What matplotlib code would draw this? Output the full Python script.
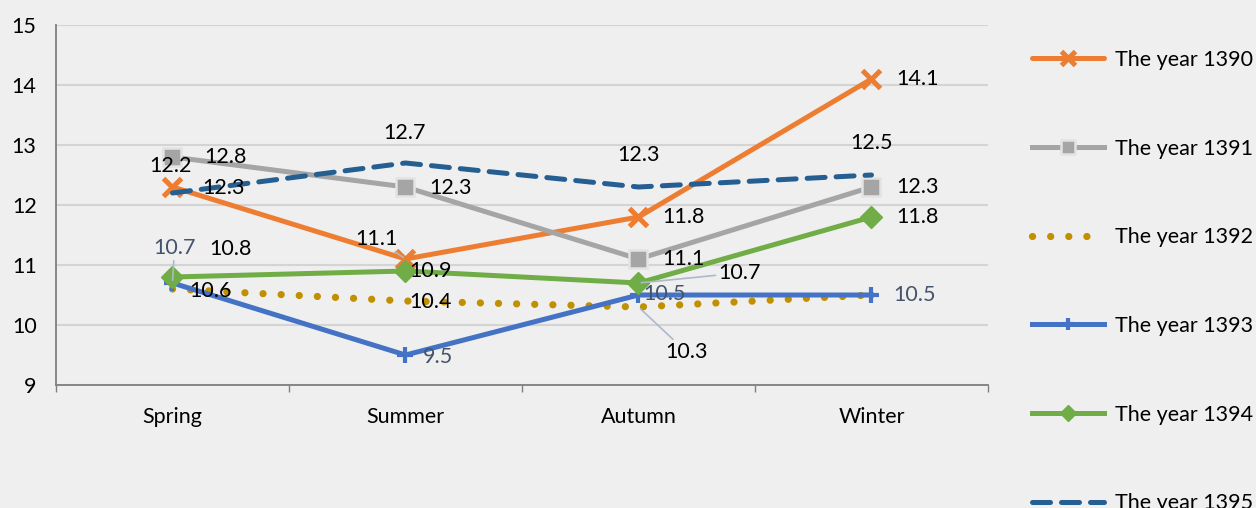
import matplotlib
matplotlib.use("Agg")
import matplotlib.pyplot as plt
from matplotlib.lines import Line2D

seasons = ["Spring", "Summer", "Autumn", "Winter"]
series_names = ["The year 1390", "The year 1391", "The year 1392",
                "The year 1393", "The year 1394", "The year 1395"]
y1390 = [12.3, 11.1, 11.8, 14.1]
y1391 = [12.8, 12.3, 11.1, 12.3]
y1392 = [10.6, 10.4, 10.3, 10.5]
y1393 = [10.7, 9.5, 10.5, 10.5]
y1394 = [10.8, 10.9, 10.7, 11.8]
y1395 = [12.2, 12.7, 12.3, 12.5]
yticks = [9, 10, 11, 12, 13, 14, 15]

plt.rcParams['font.family'] = ['Lato', 'DejaVu Sans']
FS = 15.5
BG = "#efefef"
fig = plt.figure(figsize=(12.56, 5.08), dpi=100, facecolor=BG)
ax = fig.add_axes([56/1256, 1-385/508, 932/1256, 360/508], facecolor=BG)

x = list(range(len(seasons)))
lw = 3.6
styles = [
    dict(color="#ED7D31", lw=lw, marker="x", ms=13.5, mew=3.6, solid_capstyle="round"),
    dict(color="#A5A5A5", lw=lw, marker="s", ms=12.5, mfc="#A5A5A5", mec="#e3e3e3", mew=1.8),
    dict(color="#C09000", lw=5.2, linestyle=(0, (0.01, 2.5)), dash_capstyle="round"),
    dict(color="#4472C4", lw=lw, marker="+", ms=11, mew=3),
    dict(color="#70AD47", lw=lw, marker="D", ms=11.5, mfc="#70AD47", mec="#70AD47"),
    dict(color="#255E91", lw=lw, linestyle=(0, (3.6, 2.2)), dash_capstyle="round"),
]
data = [y1390, y1391, y1392, y1393, y1394, y1395]
order = [2, 5, 1, 0, 3, 4]
for i in order:
    ax.plot(x, data[i], zorder=3 + i * 0.1, **styles[i])

ax.set_xlim(-0.5, 3.5)
ax.set_ylim(9, 15)
ax.set_yticks(yticks)
ax.set_xticks(x)
ax.set_xticklabels(seasons, fontsize=FS)
ax.tick_params(axis="y", length=0, labelsize=FS, pad=14)
ax.tick_params(axis="x", which="major", length=0, pad=16)
ax.set_xticks([-0.5, 0.5, 1.5, 2.5, 3.5], minor=True)
ax.tick_params(axis="x", which="minor", length=5, color="#7f7f7f", width=1)
ax.grid(axis="y", color="#d4d4d4", lw=1.5, zorder=0)
for s in ["top", "right"]:
    ax.spines[s].set_visible(False)
for s in ["left", "bottom"]:
    ax.spines[s].set_color("#7f7f7f")
    ax.spines[s].set_linewidth(1.3)

# data labels: (series index, point index, dx px, dy px (up), leader)
black = "#000000"
slate = "#44546a"
lab = [
    (0, 0, 51, -1, False), (0, 1, -29, 20, True), (0, 2, 45, 0, False), (0, 3, 46, 0, False),
    (1, 0, 53, 0, False), (1, 1, 45, -1, False), (1, 2, 45, 0, False), (1, 3, 46, 0, False),
    (2, 0, 38, -2, False), (2, 1, 25, -1, False), (2, 2, 48, -45, True),
    (3, 0, 2, 35, True), (3, 1, 33, -2, False), (3, 2, 26, 1, False), (3, 3, 43, 0, False),
    (4, 0, 58, 28, False), (4, 1, 25, 0, False), (4, 2, 101, 10, True), (4, 3, 46, 0, False),
    (5, 0, -2, 27, False), (5, 1, -1, 30, False), (5, 2, 0, 32, False), (5, 3, 0, 32, False),
]
px2pt = 72 / 100
for si, pi, dx, dy, leader in lab:
    col = slate if si == 3 else black
    kw = {}
    if leader:
        kw["arrowprops"] = dict(arrowstyle="-", color="#adb9ca", lw=1.2,
                                shrinkA=0, shrinkB=2)
    ax.annotate(f"{data[si][pi]:.1f}", xy=(x[pi], data[si][pi]),
                xytext=(dx * px2pt, dy * px2pt), textcoords="offset points",
                ha="center", va="center", fontsize=FS, color=col, zorder=10, **kw)

leg_handles = []
for i in range(6):
    st = dict(styles[i])
    ms = st.pop("ms", None)
    if ms:
        st["ms"] = ms * 0.75
    leg_handles.append(Line2D([], [], **st))
fig.legend(leg_handles, series_names, loc="upper left",
           bbox_to_anchor=(1032/1256, 1 - 50/508), frameon=False, fontsize=FS,
           handlelength=3.35, handletextpad=0.5, labelspacing=3.19,
           borderaxespad=0, borderpad=0)

fig.savefig("out.png", dpi=100, facecolor=BG)
